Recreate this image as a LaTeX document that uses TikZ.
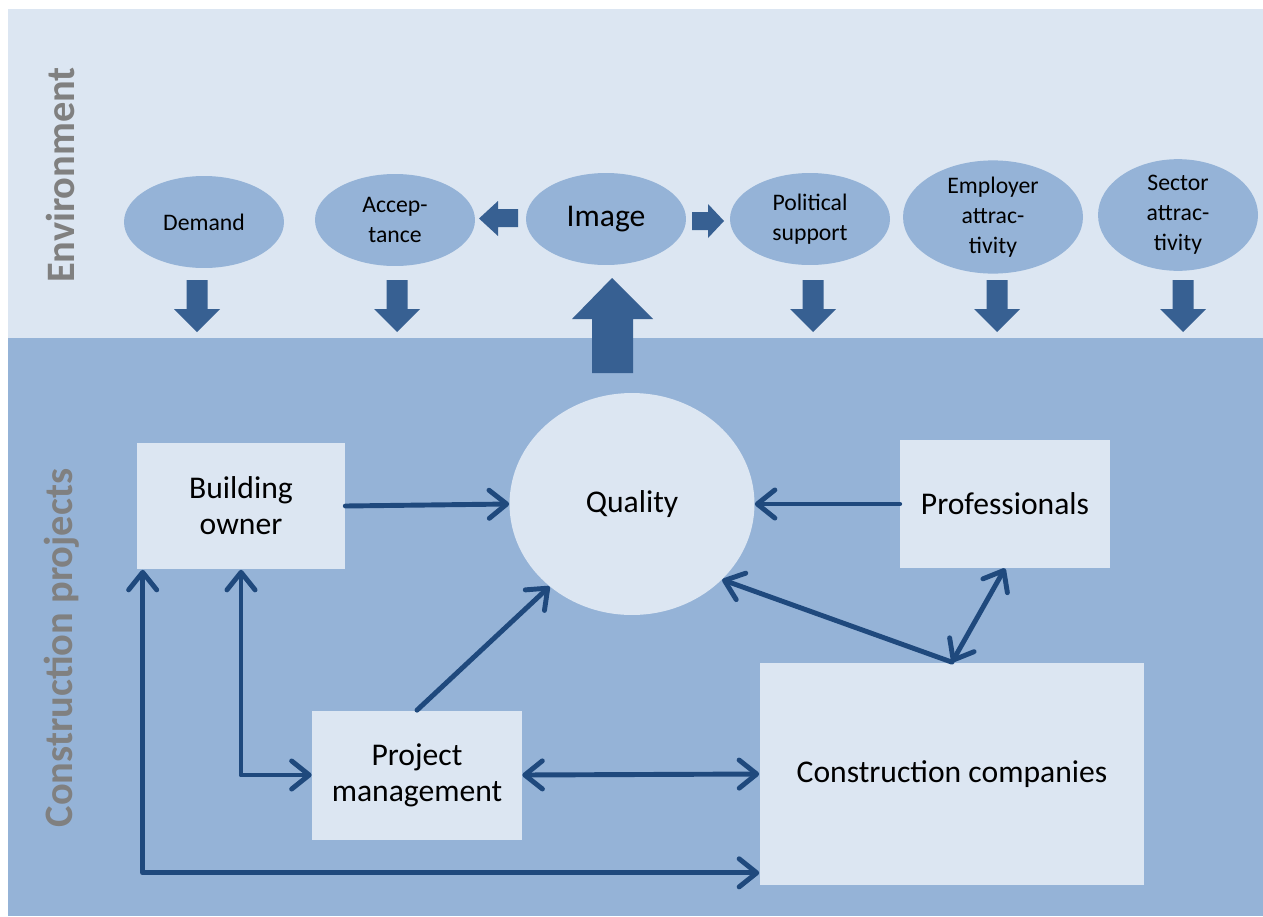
\documentclass[tikz,border=0pt]{standalone}
\usepackage{fontspec}
\setmainfont{Carlito}
\usetikzlibrary{shapes.geometric,arrows.meta}

\definecolor{envfill}{HTML}{DCE6F2}
\definecolor{projfill}{HTML}{95B3D7}
\definecolor{blockblue}{HTML}{376092}
\definecolor{linkblue}{HTML}{1F497D}
\definecolor{bandgray}{HTML}{808080}

\tikzset{
  envoval/.style={ellipse, fill=projfill, inner sep=0pt, minimum width=3.2cm,
    minimum height=1.84cm, align=center, font={\fontsize{13.5}{17}\selectfont}},
  partbox/.style={rectangle, fill=envfill, inner sep=0pt, align=center,
    font={\fontsize{18}{20.5}\selectfont}},
  bandtext/.style={rotate=90, text=bandgray, font={\bfseries\fontsize{23}{23}\selectfont}},
  blockarrow/.style={fill=blockblue},
  barb/.tip={Straight Barb[round, length=10pt, width=16pt, line width=2.8pt]},
  link/.style={draw=linkblue, line width=2.8pt, line cap=round, line join=round, -{barb}},
  linkboth/.style={link, {barb}-{barb}}
}

\begin{document}
\begin{tikzpicture}[x=0.02cm, y=-0.02cm]

\useasboundingbox (0,0) rectangle (1263,916);

% the two bands
\fill[envfill] (8,9) rectangle (1263,338);
\fill[projfill] (8,338) rectangle (1263,916);

\node[bandtext] (envlabel) at (60,175) {Environment};
\node[bandtext] (projlabel) at (62,648) {Construction projects};

% environment factors
\node[envoval] (demand) at (204,222) {Demand};
\node[envoval] (accept) at (395,220) {Accep-\\tance};
\node[envoval, font={\fontsize{18}{20}\selectfont}] (image) at (606,219) {Image};
\node[envoval] (political) at (810,219) {Political\\support};
\node[envoval, minimum width=3.6cm] (employer) at (993,217) {Employer\\attrac-\\tivity};
\node[envoval] (sector) at (1178,215) {Sector\\attrac-\\tivity};

% block arrows
\foreach \ax in {197,397,813,997,1183}
  \fill[blockarrow] (\ax-10.5,280) -- (\ax+10.5,280) -- (\ax+10.5,309) -- (\ax+23,309)
    -- (\ax,332) -- (\ax-23,309) -- (\ax-10.5,309) -- cycle;

\fill[blockarrow] (592,373) -- (633,373) -- (633,319) -- (653,319) -- (612,278)
  -- (572,319) -- (592,319) -- cycle;
\fill[blockarrow] (518,209) -- (518,227) -- (498,227) -- (498,236) -- (479,218.5)
  -- (498,201) -- (498,209) -- cycle;
\fill[blockarrow] (692,212) -- (708,212) -- (708,204) -- (724,221) -- (708,238)
  -- (708,230) -- (692,230) -- cycle;

% construction project parties
\node[ellipse, fill=envfill, inner sep=0pt, minimum width=4.9cm, minimum height=4.44cm,
  font={\fontsize{18}{20.5}\selectfont}] (quality) at (632,504) {\raisebox{-2pt}{Quality}};
\node[partbox, minimum width=4.16cm, minimum height=2.54cm] (owner) at (241,506) {Building\\owner};
\node[partbox, minimum width=4.2cm, minimum height=2.56cm] (prof) at (1005,504) {Professionals};
\node[partbox, minimum width=4.2cm, minimum height=2.58cm] (pm) at (417,775) {Project\\management};
\node[partbox, minimum width=7.7cm, minimum height=4.46cm] (cc) at (952,774) {Construction companies};

\draw[link] (owner.east) -- (quality.west);
\draw[link] (prof.west) -- (quality.east);
\draw[link] (pm.north) -- (quality.225);
\draw[link] (cc.north) -- (quality.-40);
\draw[linkboth] (cc.north) -- (prof.south);
\draw[linkboth] (owner.south) |- (pm.west);
\draw[linkboth] ([xshift=0.12cm]owner.south west) |- ([yshift=0.26cm]cc.south west);
\draw[linkboth] (pm.east) -- (cc.west);

\end{tikzpicture}
\end{document}
